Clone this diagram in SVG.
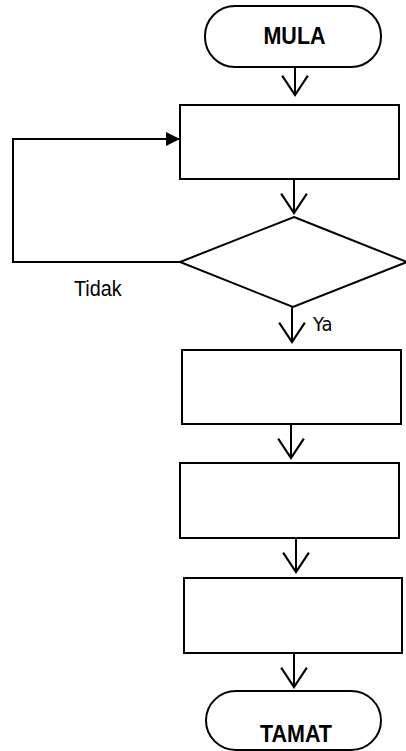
<svg xmlns="http://www.w3.org/2000/svg" width="406" height="751" viewBox="0 0 406 751">
<style>
.s{fill:#fff;stroke:#000;stroke-width:2}
.c{fill:none;stroke:#000;stroke-width:2}
.b{font-family:"Liberation Sans",Arial,sans-serif;font-weight:bold;font-size:21.5px;fill:#000;text-anchor:middle}
.t{font-family:"Liberation Sans",Arial,sans-serif;font-size:19.8px;fill:#000}
.y{font-family:"DejaVu Sans",sans-serif;font-size:18px;fill:#000}
</style>
<defs>
<marker id="v" markerUnits="userSpaceOnUse" markerWidth="24" markerHeight="30" viewBox="-20 -14 22 28" refX="0" refY="0" orient="auto" overflow="visible">
<path d="M-18,-12 L0,0 L-18,12" fill="none" stroke="#000" stroke-width="2"/>
</marker>
<marker id="f" markerUnits="userSpaceOnUse" markerWidth="16" markerHeight="16" viewBox="-14 -8 16 16" refX="0" refY="0" orient="auto" overflow="visible">
<path d="M-14,-7 L0,0 L-14,7 Z" fill="#000"/>
</marker>
</defs>
<g id="connectors">
<line class="c" x1="295" y1="67" x2="295" y2="95" marker-end="url(#v)"/>
<line class="c" x1="294" y1="179" x2="294" y2="213" marker-end="url(#v)"/>
<line class="c" x1="292" y1="307" x2="292" y2="342" marker-end="url(#v)"/>
<line class="c" x1="291" y1="424" x2="291" y2="458" marker-end="url(#v)"/>
<line class="c" x1="296" y1="538" x2="296" y2="572" marker-end="url(#v)"/>
<line class="c" x1="294" y1="653" x2="294" y2="687" marker-end="url(#v)"/>
<polyline class="c" points="180,262 13,262 13,139 180,139" marker-end="url(#f)"/>
<text class="t" transform="translate(74,296) scale(1,1.1)">Tidak</text>
<text class="y" transform="translate(313,331) scale(1,1.1)">Ya</text>
</g>
<g id="mula">
<rect class="s" x="205" y="6" width="176" height="61" rx="30" ry="30"/>
<text class="b" transform="translate(294.5,44) scale(1,1.1)">MULA</text>
</g>
<g id="proses1">
<rect class="s" x="180" y="105" width="219" height="74"/>
</g>
<g id="keputusan">
<polygon class="s" points="294,217 407,262 293,307 180,262"/>
</g>
<g id="proses2">
<rect class="s" x="182" y="350" width="219" height="74"/>
</g>
<g id="proses3">
<rect class="s" x="180" y="463" width="219" height="75"/>
</g>
<g id="proses4">
<rect class="s" x="184" y="578" width="218" height="75"/>
</g>
<g id="tamat">
<rect class="s" x="206" y="691" width="175" height="59" rx="30" ry="30"/>
<text class="b" transform="translate(296,742) scale(1,1.12)">TAMAT</text>
</g>
</svg>
